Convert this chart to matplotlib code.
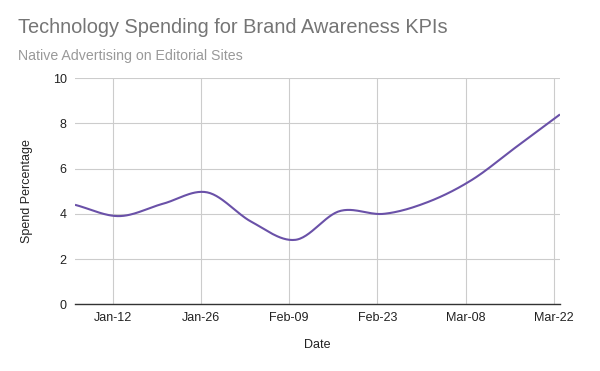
import numpy as np
import matplotlib
matplotlib.use('Agg')
import matplotlib.pyplot as plt
import matplotlib.dates as mdates

# weekly data points
dates = ['2024-01-06', '2024-01-13', '2024-01-20', '2024-01-27', '2024-02-03', '2024-02-10',
         '2024-02-17', '2024-02-24', '2024-03-02', '2024-03-09', '2024-03-16', '2024-03-23']
spend = [4.4, 3.9, 4.45, 4.95, 3.65, 2.85, 4.12, 4.0, 4.52, 5.5, 6.95, 8.4]

tick_dates = ['2024-01-12', '2024-01-26', '2024-02-09', '2024-02-23', '2024-03-08', '2024-03-22']
tick_labels = ['Jan-12', 'Jan-26', 'Feb-09', 'Feb-23', 'Mar-08', 'Mar-22']
y_ticks = [0, 2, 4, 6, 8, 10]

plt.rcParams['font.family'] = ['Liberation Sans', 'DejaVu Sans']

x = mdates.datestr2num(dates)
y = np.array(spend)


def catmull_rom(px, py, n=30):
	# smooth curve through the points, like the sheets "smooth" option
	px = np.concatenate([[2*px[0]-px[1]], px, [2*px[-1]-px[-2]]])
	py = np.concatenate([[2*py[0]-py[1]], py, [2*py[-1]-py[-2]]])
	xs, ys = [], []
	t = np.linspace(0, 1, n)
	for i in range(1, len(px)-2):
		p0, p1, p2, p3 = (np.array([px[j], py[j]]) for j in range(i-1, i+3))
		c1 = p1 + (p2 - p0) / 6
		c2 = p2 - (p3 - p1) / 6
		pts = ((1-t)**3)[:, None]*p1 + (3*(1-t)**2*t)[:, None]*c1 \
			+ (3*(1-t)*t**2)[:, None]*c2 + (t**3)[:, None]*p2
		xs.append(pts[:, 0])
		ys.append(pts[:, 1])
	return np.concatenate(xs), np.concatenate(ys)


sx, sy = catmull_rom(x, y)

fig = plt.figure(figsize=(6, 3.71), dpi=100)
ax = fig.add_axes([0.125, 0.18, 0.8083, 0.609])

ax.plot(sx, sy, color='#6a51a8', lw=1.5, solid_capstyle='butt', zorder=3)

ax.set_xlim(x[0], x[-1])
ax.set_ylim(0, 10)
ax.set_yticks(y_ticks)
ax.set_xticks(mdates.datestr2num(tick_dates))
ax.set_xticklabels(tick_labels)

ax.grid(True, color='#cccccc', lw=0.8)
ax.set_axisbelow(True)
for s in ['top', 'right', 'left']:
	ax.spines[s].set_visible(False)
ax.spines['bottom'].set_color('#333333')
ax.spines['bottom'].set_linewidth(1.0)
ax.tick_params(length=0, labelsize=9, labelcolor='#222222')
ax.tick_params(axis='x', pad=5.5)
ax.tick_params(axis='y', pad=6)

ax.set_xlabel('Date', fontsize=9, color='#222222', labelpad=11)
ax.set_ylabel('Spend Percentage', fontsize=9, color='#222222', labelpad=14)

fig.text(0.03, 0.925, 'Technology Spending for Brand Awareness KPIs', fontsize=14.4,
	color='#757575', va='center')
fig.text(0.03, 0.848, 'Native Advertising on Editorial Sites', fontsize=10.2,
	color='#999999', va='center')

fig.savefig('out.png', dpi=100)
